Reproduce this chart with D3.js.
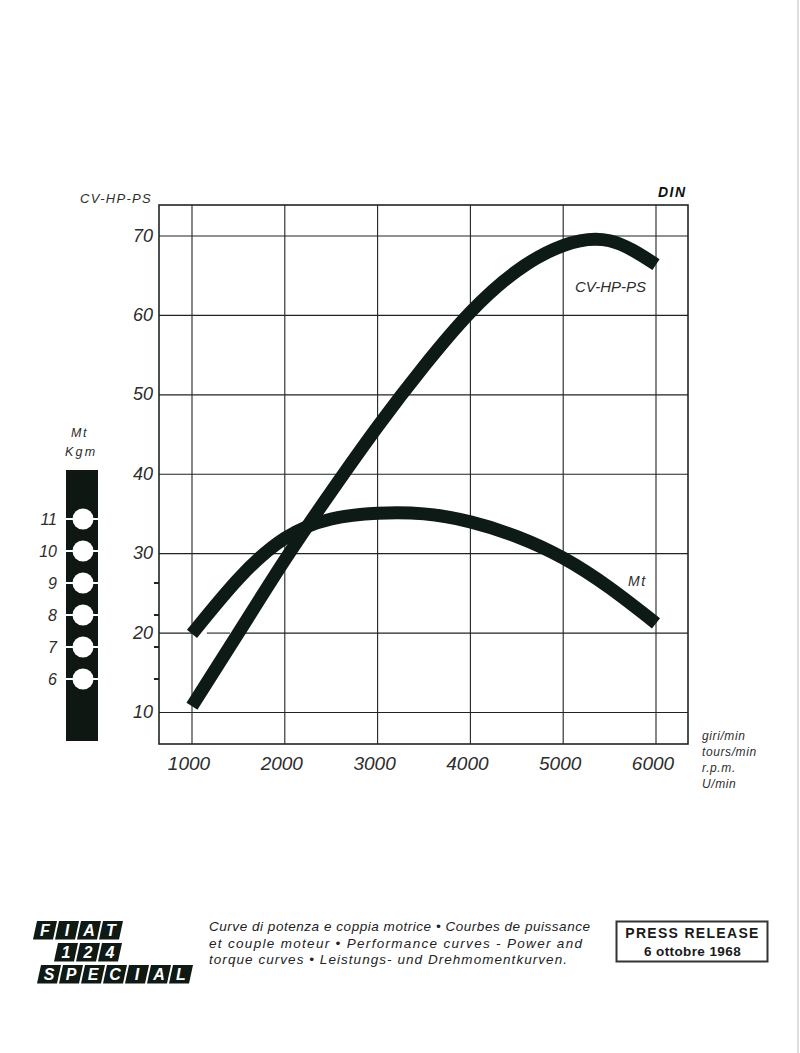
<!DOCTYPE html>
<html><head><meta charset="utf-8">
<script src="https://cdn.jsdelivr.net/npm/d3@7"></script>
<style>
html,body{margin:0;padding:0;background:#fff;}
svg{display:block;}
text{font-family:"Liberation Sans",Arial,Helvetica,sans-serif;}
</style></head><body>
<svg id="chart" width="800" height="1053"></svg>
<script>
// ---- data ----
const rpmTicks = [1000, 2000, 3000, 4000, 5000, 6000];
const rpmLabels = ["1000", "2000", "3000", "4000", "5000", "6000"];
const powerTicks = [10, 20, 30, 40, 50, 60, 70];
const powerLabels = ["10", "20", "30", "40", "50", "60", "70"];
const kgmTicks = [6, 7, 8, 9, 10, 11];
const kgmLabels = ["6", "7", "8", "9", "10", "11"];
const kgmAxisTicks = [6, 7, 8, 9];
const powerRpm = [1000, 1500, 2000, 2500, 3000, 3500, 4000, 4500, 5000, 5500, 6000];
const powerCV  = [10.8, 20.0, 29.2, 37.8, 46.0, 53.6, 60.4, 65.6, 68.8, 69.4, 66.4];
const torqueRpm = [1000, 1500, 2000, 2500, 3000, 3500, 4000, 4500, 5000, 5500, 6000];
const torqueKgm = [7.41, 9.13, 10.40, 11.00, 11.18, 11.16, 10.91, 10.45, 9.78, 8.85, 7.74];
const unitLabels = ["giri/min", "tours/min", "r.p.m.", "U/min"];
const captionLines = [
  "Curve di potenza e coppia motrice \u2022 Courbes de puissance",
  "et couple moteur \u2022 Performance curves - Power and",
  "torque curves \u2022 Leistungs- und Drehmomentkurven."
];
const logoRows = [["F","I","A","T"], ["1","2","4"], ["S","P","E","C","I","A","L"]];
const pressLines = ["PRESS RELEASE", "6 ottobre 1968"];

// ---- layout ----
const svg = d3.select("#chart");
const ink = "#1f2622", curveInk = "#0e1a15", textInk = "#2d2d2d";
const L = 159, R = 688, T = 205, B = 744;
const x = d3.scaleLinear().domain([1000, 6000]).range([192, 656]);
const y = d3.scaleLinear().domain([10, 70]).range([712.5, 236]);
const k = d3.scaleLinear().domain([6, 11]).range([679, 519]);

svg.append("rect").attr("width", 800).attr("height", 1053).attr("fill", "#fff");
svg.append("line").attr("x1", 798).attr("x2", 798).attr("y1", 0).attr("y2", 1053)
  .attr("stroke", "#bdbdbd").attr("stroke-width", 1);

const g = svg.append("g");
// vertical grid
g.selectAll("line.v").data(rpmTicks).join("line")
  .attr("x1", d => x(d)).attr("x2", d => x(d)).attr("y1", T).attr("y2", B)
  .attr("stroke", ink).attr("stroke-width", 1.1);
// horizontal grid (20 line is broken near start in the original)
const xMin = x.invert(L), xMax = x.invert(R);
powerTicks.forEach(v => {
  const segs = v === 20 ? [[xMin, 1000], [1160, 1410], [1570, xMax]] : [[xMin, xMax]];
  segs.forEach(s => {
    g.append("line").attr("x1", x(s[0])).attr("x2", x(s[1]))
      .attr("y1", y(v)).attr("y2", y(v)).attr("stroke", ink).attr("stroke-width", 1.1);
  });
});
// frame
g.append("rect").attr("x", L).attr("y", T).attr("width", R - L).attr("height", B - T)
  .attr("fill", "none").attr("stroke", ink).attr("stroke-width", 1.6);
// kgm ticks on left axis
g.selectAll("line.kt").data(kgmAxisTicks).join("line")
  .attr("x1", L - 5).attr("x2", L).attr("y1", d => k(d)).attr("y2", d => k(d))
  .attr("stroke", ink).attr("stroke-width", 2);

// y labels
g.selectAll("text.yl").data(powerTicks).join("text")
  .attr("x", 153).attr("y", d => y(d) + 5.5).attr("text-anchor", "end")
  .attr("font-size", 18).attr("font-style", "italic").attr("fill", textInk)
  .text((d, i) => powerLabels[i]);
// x labels
g.selectAll("text.xl").data(rpmTicks).join("text")
  .attr("x", d => x(d) - 3).attr("y", 770).attr("text-anchor", "middle")
  .attr("font-size", 19).attr("font-style", "italic").attr("fill", textInk)
  .text((d, i) => rpmLabels[i]);
// units
g.selectAll("text.un").data(unitLabels).join("text")
  .attr("x", 702).attr("y", (d, i) => 740 + i * 16)
  .attr("font-size", 12).attr("font-style", "italic").attr("letter-spacing", 0.6)
  .attr("fill", textInk).text(d => d);
// axis titles
g.append("text").attr("x", 80).attr("y", 203).attr("font-size", 13).attr("font-style", "italic")
  .attr("letter-spacing", 1.3).attr("fill", textInk).text("CV-HP-PS");
g.append("text").attr("x", 658).attr("y", 197).attr("font-size", 14).attr("font-style", "italic")
  .attr("font-weight", "bold").attr("letter-spacing", 1.5).attr("fill", "#111").text("DIN");

// curves
const powerPts = powerRpm.map((r, i) => [x(r), y(powerCV[i])]);
const torquePts = torqueRpm.map((r, i) => [x(r), k(torqueKgm[i])]);
const line = d3.line().curve(d3.curveNatural);
g.append("path").attr("d", line(torquePts)).attr("fill", "none")
  .attr("stroke", curveInk).attr("stroke-width", 13).attr("stroke-linecap", "butt");
g.append("path").attr("d", line(powerPts)).attr("fill", "none")
  .attr("stroke", curveInk).attr("stroke-width", 13).attr("stroke-linecap", "butt");

// curve labels
g.append("text").attr("x", 575).attr("y", 291.5).attr("font-size", 15).attr("font-style", "italic")
  .attr("fill", textInk).text("CV-HP-PS");
g.append("text").attr("x", 628).attr("y", 586).attr("font-size", 14).attr("font-style", "italic")
  .attr("letter-spacing", 1.5).attr("fill", textInk).text("Mt");

// Kgm bar
g.append("text").attr("x", 71).attr("y", 437).attr("font-size", 12.5).attr("font-style", "italic")
  .attr("letter-spacing", 1.5).attr("fill", textInk).text("Mt");
g.append("text").attr("x", 65).attr("y", 456).attr("font-size", 12.5).attr("font-style", "italic")
  .attr("letter-spacing", 2.2).attr("fill", textInk).text("Kgm");
g.append("rect").attr("x", 66).attr("y", 470).attr("width", 32).attr("height", 271).attr("fill", "#0f1713");
g.selectAll("line.kw").data(kgmTicks).join("line")
  .attr("x1", 64).attr("x2", 98).attr("y1", d => k(d)).attr("y2", d => k(d))
  .attr("stroke", "#fff").attr("stroke-width", 2);
g.selectAll("circle.kc").data(kgmTicks).join("circle")
  .attr("cx", 83).attr("cy", d => k(d)).attr("r", 10.5).attr("fill", "#fff");
g.selectAll("text.kl").data(kgmTicks).join("text")
  .attr("x", 57).attr("y", d => k(d) + 6).attr("text-anchor", "end")
  .attr("font-size", 16).attr("font-style", "italic").attr("fill", textInk)
  .text((d, i) => kgmLabels[i]);

// caption
const capW = [381, 373, 358];
g.selectAll("text.cap").data(captionLines).join("text")
  .attr("x", 209).attr("y", (d, i) => 931 + i * 16.5)
  .attr("font-size", 13.5).attr("font-style", "italic").attr("fill", "#222")
  .attr("textLength", (d, i) => capW[i]).attr("lengthAdjust", "spacing")
  .text(d => d);

// press release box
g.append("rect").attr("x", 616.5).attr("y", 921.5).attr("width", 151).attr("height", 40)
  .attr("fill", "none").attr("stroke", "#333").attr("stroke-width", 2);
g.append("text").attr("x", 692.5).attr("y", 937.5).attr("text-anchor", "middle")
  .attr("font-size", 14).attr("font-weight", "bold").attr("letter-spacing", 1.3)
  .attr("fill", "#1a1a1a").text(pressLines[0]);
g.append("text").attr("x", 692.5).attr("y", 955.5).attr("text-anchor", "middle")
  .attr("font-size", 13.5).attr("font-weight", "bold").attr("letter-spacing", 0.4)
  .attr("fill", "#1a1a1a").text(pressLines[1]);

// logo
const rowStart = [33, 54, 37], rowTop = [921, 943, 965], cellH = 18.5, pitch = 22, cw = 20, sk = 4;
logoRows.forEach((row, ri) => {
  row.forEach((ch, ci) => {
    const x0 = rowStart[ri] + ci * pitch, yb = rowTop[ri] + cellH, yt = rowTop[ri];
    g.append("path").attr("d", `M${x0},${yb}L${x0 + cw},${yb}L${x0 + cw + sk},${yt}L${x0 + sk},${yt}Z`)
      .attr("fill", "#101a15");
    g.append("text").attr("x", x0 + cw / 2 + sk / 2).attr("y", yb - 3.5).attr("text-anchor", "middle")
      .attr("font-size", 16).attr("font-weight", "bold").attr("font-style", "italic")
      .attr("fill", "#fff").text(ch);
  });
});
</script>
</body></html>
